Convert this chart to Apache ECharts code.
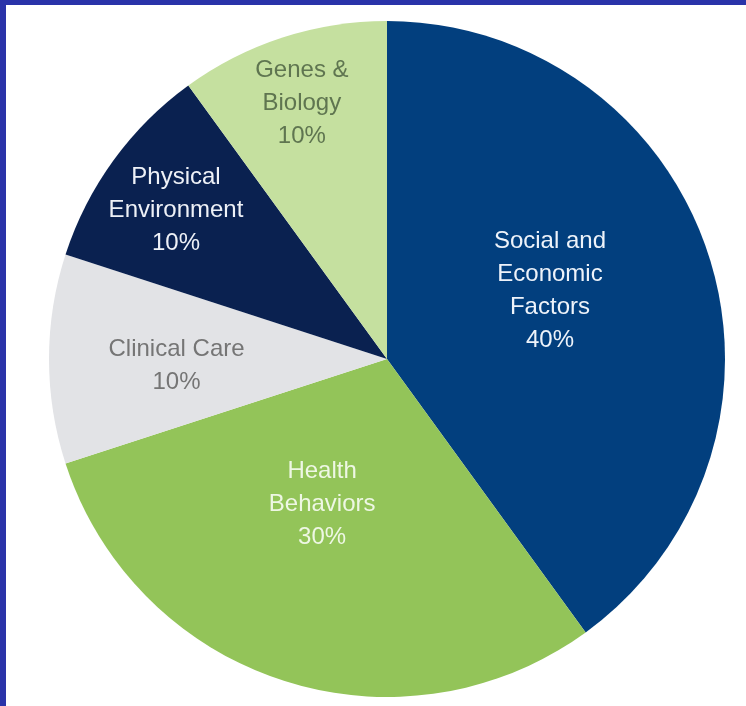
<!DOCTYPE html>
<html>
<head>
<meta charset="utf-8">
<script src="https://cdn.jsdelivr.net/npm/echarts@6/dist/echarts.min.js"></script>
<style>
html,body{margin:0;padding:0;width:746px;height:706px;background:#2a33a9;overflow:hidden;}
#chart{position:absolute;left:6px;top:5px;width:740px;height:701px;background:#ffffff;}
</style>
</head>
<body>
<div id="chart"></div>
<script>
// Data
const categories = ['Social and\nEconomic\nFactors', 'Health\nBehaviors', 'Clinical Care', 'Physical\nEnvironment', 'Genes &\nBiology'];
const shares = [40, 30, 10, 10, 10];

// Styling (kept separate from data)
const sliceColors = ['#023f7e', '#93c459', '#e2e3e6', '#0a2150', '#c5e09f'];
const labelColors = ['#eef3fa', '#eef7e4', '#757575', '#eef1f7', '#5f7550'];
// label placement: angle (deg, clockwise from 12 o'clock) and fraction of radius
const labelAngle = [67.2, 204.1, 268.1, 305.2, 341.6];
const labelFrac = [0.523, 0.470, 0.623, 0.764, 0.798];

const CX = 381, CY = 354, R = 338;

const chart = echarts.init(document.getElementById('chart'), null, {renderer: 'canvas'});
chart.setOption({
  animation: false,
  backgroundColor: '#ffffff',
  series: [{
    type: 'pie',
    center: [CX, CY],
    radius: [0, R],
    startAngle: 90,
    clockwise: true,
    avoidLabelOverlap: false,
    itemStyle: {borderWidth: 0},
    emphasis: {disabled: true},
    label: {
      show: true,
      position: 'inside',
      formatter: p => p.name + '\n' + p.value + '%',
      fontFamily: '"Liberation Sans", Arial, sans-serif',
      fontSize: 24,
      lineHeight: 33,
      align: 'center'
    },
    labelLine: {show: false},
    labelLayout: function (p) {
      const i = p.dataIndex;
      const a = labelAngle[i] * Math.PI / 180;
      return {
        x: CX + labelFrac[i] * R * Math.sin(a),
        y: CY - labelFrac[i] * R * Math.cos(a),
        align: 'center',
        verticalAlign: 'middle'
      };
    },
    data: categories.map((c, i) => ({
      name: c,
      value: shares[i],
      itemStyle: {color: sliceColors[i]},
      label: {color: labelColors[i]}
    }))
  }]
});
</script>
</body>
</html>
